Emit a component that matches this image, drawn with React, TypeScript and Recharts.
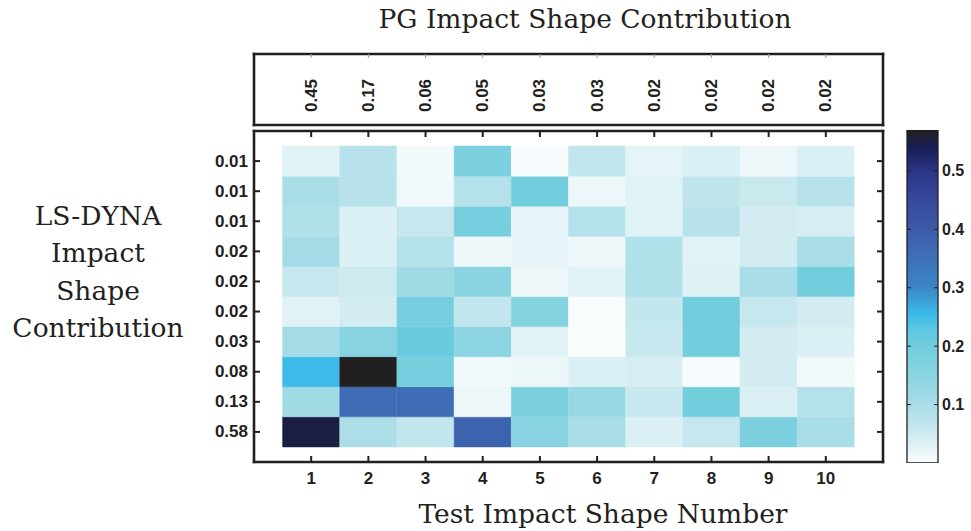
import React from 'react';
import { ComposedChart, BarChart, ScatterChart, Bar, Cell, Scatter, XAxis, YAxis } from 'recharts';

const INK = '#231f20';
const W = 971;
const H = 531;

// ---------------- data ----------------
const testShapes = [1, 2, 3, 4, 5, 6, 7, 8, 9, 10];
const pgContribution = ['0.45', '0.17', '0.06', '0.05', '0.03', '0.03', '0.02', '0.02', '0.02', '0.02'];
// rows listed top to bottom
const lsDynaContribution = ['0.01', '0.01', '0.01', '0.02', '0.02', '0.02', '0.03', '0.08', '0.13', '0.58'];

const row01 = [0.03, 0.08, 0.01, 0.18, 0.005, 0.065, 0.025, 0.035, 0.015, 0.035];
const row02 = [0.1, 0.08, 0.012, 0.085, 0.2, 0.015, 0.03, 0.07, 0.055, 0.08];
const row03 = [0.09, 0.035, 0.06, 0.19, 0.022, 0.085, 0.03, 0.08, 0.045, 0.04];
const row04 = [0.11, 0.035, 0.085, 0.015, 0.022, 0.015, 0.09, 0.028, 0.045, 0.1];
const row05 = [0.06, 0.05, 0.115, 0.15, 0.015, 0.028, 0.09, 0.032, 0.1, 0.2];
const row06 = [0.028, 0.045, 0.19, 0.065, 0.16, 0.002, 0.063, 0.2, 0.06, 0.045];
const row07 = [0.11, 0.155, 0.21, 0.145, 0.028, 0.002, 0.057, 0.2, 0.045, 0.035];
const row08 = [0.255, 0.57, 0.19, 0.01, 0.017, 0.035, 0.04, 0.005, 0.045, 0.012];
const row09 = [0.115, 0.36, 0.36, 0.015, 0.18, 0.13, 0.057, 0.2, 0.035, 0.085];
const row10 = [0.55, 0.095, 0.067, 0.38, 0.155, 0.1, 0.035, 0.06, 0.18, 0.1];
const heatRows = [row01, row02, row03, row04, row05, row06, row07, row08, row09, row10];

const colorbarTicks = [0.1, 0.2, 0.3, 0.4, 0.5];
const colorbarMax = 0.57;

const colormapValues = [0, 0.05, 0.1, 0.15, 0.2, 0.23, 0.255, 0.3, 0.35, 0.4, 0.45, 0.5, 0.54, 0.57];
const colormapColors = [
  '#fbfdfe', '#cdeaf0', '#a9dde7', '#8ad4e1', '#72cddd', '#5ac7e3', '#3cbbea',
  '#3b87c6', '#3e70b8', '#3d5ba8', '#37489b', '#2a3587', '#171d55', '#221f20',
];

// ---------------- helpers ----------------
function hexToRgb(h: string) {
  const n = parseInt(h.slice(1), 16);
  return [(n >> 16) & 255, (n >> 8) & 255, n & 255];
}
function colorFor(v: number) {
  if (v <= colormapValues[0]) return colormapColors[0];
  for (let i = 1; i < colormapValues.length; i++) {
    if (v <= colormapValues[i]) {
      const t = (v - colormapValues[i - 1]) / (colormapValues[i] - colormapValues[i - 1]);
      const a = hexToRgb(colormapColors[i - 1]);
      const b = hexToRgb(colormapColors[i]);
      const c = a.map((x, k) => Math.round(x + (b[k] - x) * t));
      return `rgb(${c[0]},${c[1]},${c[2]})`;
    }
  }
  return colormapColors[colormapColors.length - 1];
}

const stackKeys = heatRows.map((_, s) => `s${s}`); // s = 0 is the bottom row
const heatData = testShapes.map((shape) => {
  const d: any = { shape };
  stackKeys.forEach((k) => (d[k] = 1));
  return d;
});
const rowTicks = lsDynaContribution.map((_, i) => i + 0.5);
const anchorData = testShapes.map((x, i) => ({ x, y: rowTicks[i] }));
const pgData = testShapes.map((shape, i) => ({ shape, pos: 0.5, label: pgContribution[i] }));
const colorbarData = [{ name: 'scale', v: colorbarMax }];

// ---------------- styles ----------------
const axisLineStyle = { stroke: INK, strokeWidth: 2.6, strokeLinecap: 'square' as const };
const tickFont = {
  fontFamily: '"Liberation Sans", Arial, Helvetica, sans-serif',
  fontWeight: 700,
  fontSize: 17,
  fill: INK,
};
const cbFont = { ...tickFont, fontSize: 16 };
const serif = { fontFamily: '"DejaVu Serif", serif', fontSize: 26.5, fill: INK };

// ---------------- tick renderers ----------------
function LeftTick(props: any) {
  const { x, y, payload } = props;
  const s = Math.round(payload.value - 0.5);
  return (
    <g>
      <text x={x} y={y} textAnchor="end" dominantBaseline="central" {...tickFont}>
        {lsDynaContribution[lsDynaContribution.length - 1 - s]}
      </text>
      <line x1={x + 6} x2={x + 12} y1={y} y2={y} stroke={INK} strokeWidth={2} />
    </g>
  );
}
function RightTick(props: any) {
  const { x, y } = props;
  return <line x1={x} x2={x - 6} y1={y} y2={y} stroke={INK} strokeWidth={2} />;
}
function BottomTick(props: any) {
  const { x, y, payload } = props;
  return (
    <g>
      <text x={x} y={y} textAnchor="middle" dominantBaseline="central" {...tickFont}>
        {payload.value}
      </text>
      <line x1={x} x2={x} y1={y - 16} y2={y - 22} stroke={INK} strokeWidth={2} />
    </g>
  );
}
function TopTick(props: any) {
  const { x, y } = props;
  return <line x1={x} x2={x} y1={y} y2={y + 6} stroke={INK} strokeWidth={2} />;
}
function FaintTopTick(props: any) {
  const { x, y } = props;
  return <line x1={x} x2={x} y1={y} y2={y + 4} stroke="#9a9a9a" strokeWidth={1} />;
}
function ColorbarTick(props: any) {
  const { x, y, payload } = props;
  return (
    <g>
      <text x={x} y={y} textAnchor="start" dominantBaseline="central" {...cbFont}>
        {payload.value}
      </text>
      <line x1={x - 4} x2={x - 8} y1={y} y2={y} stroke={INK} strokeWidth={1} />
      <line x1={x - 35} x2={x - 31} y1={y} y2={y} stroke={INK} strokeWidth={1} />
    </g>
  );
}
function PgLabel(props: any) {
  const { cx, cy, payload } = props;
  return (
    <text
      transform={`translate(${cx},${cy + 6}) rotate(-90)`}
      textAnchor="middle"
      dominantBaseline="central"
      {...tickFont}
    >
      {payload.label}
    </text>
  );
}
const Empty = () => <g />;

const layer: React.CSSProperties = { position: 'absolute', left: 0, top: 0 };

export default function App() {
  return (
    <div style={{ position: 'absolute', left: 0, top: 0, width: W, height: H, background: '#fff' }}>
      {/* main heatmap */}
      <div style={layer}>
        <ComposedChart
          width={W}
          height={H}
          data={heatData}
          margin={{ top: 121, bottom: 39, left: 194, right: 78 }}
          barCategoryGap={0}
          barGap={0}
        >
          <XAxis
            xAxisId="bottom"
            dataKey="shape"
            type="category"
            orientation="bottom"
            height={30}
            padding={{ left: 28.6, right: 28.6 }}
            axisLine={axisLineStyle}
            tickLine={false}
            tickSize={0}
            tickMargin={16}
            interval={0}
            tick={<BottomTick />}
          />
          <XAxis
            xAxisId="top"
            dataKey="x"
            type="number"
            orientation="top"
            domain={[0, 11]}
            ticks={testShapes}
            allowDataOverflow
            height={10}
            axisLine={axisLineStyle}
            tickLine={false}
            tickSize={0}
            tickMargin={0}
            interval={0}
            tick={<TopTick />}
          />
          <YAxis
            yAxisId="left"
            type="number"
            orientation="left"
            domain={[-0.5, 10.5]}
            ticks={rowTicks}
            allowDataOverflow
            width={60}
            axisLine={axisLineStyle}
            tickLine={false}
            tickSize={0}
            tickMargin={6}
            interval={0}
            tick={<LeftTick />}
          />
          <YAxis
            yAxisId="right"
            dataKey="y"
            type="number"
            orientation="right"
            domain={[-0.5, 10.5]}
            ticks={rowTicks}
            allowDataOverflow
            width={10}
            axisLine={axisLineStyle}
            tickLine={false}
            tickSize={0}
            tickMargin={0}
            interval={0}
            tick={<RightTick />}
          />
          {stackKeys.map((k, s) => {
            const row = heatRows[heatRows.length - 1 - s];
            return (
              <Bar key={k} dataKey={k} stackId="heat" xAxisId="bottom" yAxisId="left" isAnimationActive={false}>
                {row.map((v, c) => (
                  <Cell key={c} fill={colorFor(v)} stroke={colorFor(v)} strokeWidth={0.5} />
                ))}
              </Bar>
            );
          })}
          <Scatter xAxisId="top" yAxisId="right" data={anchorData} shape={Empty} isAnimationActive={false} />
        </ComposedChart>
      </div>

      {/* colorbar */}
      <div style={layer}>
        <BarChart
          width={W}
          height={H}
          data={colorbarData}
          margin={{ top: 130, bottom: 68, left: 907, right: 3 }}
          barCategoryGap={0}
        >
          <defs>
            <linearGradient id="cmap" x1="0" y1="1" x2="0" y2="0">
              {colormapValues.map((v, i) => (
                <stop key={i} offset={v / colorbarMax} stopColor={colormapColors[i]} />
              ))}
            </linearGradient>
          </defs>
          <XAxis dataKey="name" hide />
          <YAxis
            orientation="right"
            width={30}
            domain={[0, colorbarMax]}
            ticks={colorbarTicks}
            allowDataOverflow
            axisLine={false}
            tickLine={false}
            tickSize={0}
            tickMargin={4}
            interval={0}
            tick={<ColorbarTick />}
          />
          <Bar dataKey="v" fill="url(#cmap)" stroke={INK} strokeWidth={1.3} isAnimationActive={false} />
        </BarChart>
      </div>

      {/* PG contribution strip */}
      <div style={layer}>
        <ScatterChart width={W} height={140} margin={{ top: 44, bottom: 10, left: 250, right: 84 }}>
          <XAxis
            xAxisId="b"
            dataKey="shape"
            type="number"
            orientation="bottom"
            domain={[0, 11]}
            allowDataOverflow
            height={5}
            tick={false}
            tickLine={false}
            axisLine={axisLineStyle}
          />
          <XAxis
            xAxisId="t"
            dataKey="shape"
            type="number"
            orientation="top"
            domain={[0, 11]}
            ticks={testShapes}
            allowDataOverflow
            height={10}
            tickLine={false}
            tickSize={0}
            tickMargin={0}
            interval={0}
            tick={<FaintTopTick />}
            axisLine={axisLineStyle}
          />
          <YAxis
            yAxisId="l"
            dataKey="pos"
            type="number"
            domain={[0, 1]}
            allowDataOverflow
            width={4}
            tick={false}
            tickLine={false}
            axisLine={axisLineStyle}
          />
          <YAxis
            yAxisId="r"
            dataKey="pos"
            type="number"
            orientation="right"
            domain={[0, 1]}
            allowDataOverflow
            width={4}
            tick={false}
            tickLine={false}
            axisLine={axisLineStyle}
          />
          <Scatter xAxisId="b" yAxisId="l" data={pgData} shape={PgLabel} isAnimationActive={false} />
          <Scatter xAxisId="t" yAxisId="r" data={pgData} shape={Empty} isAnimationActive={false} />
        </ScatterChart>
      </div>

      {/* titles */}
      <svg width={W} height={H} style={{ ...layer, pointerEvents: 'none' }}>
        <text x={585} y={28} textAnchor="middle" {...serif}>
          PG Impact Shape Contribution
        </text>
        <text x={603} y={523} textAnchor="middle" {...serif}>
          Test Impact Shape Number
        </text>
        <text textAnchor="middle" {...serif}>
          <tspan x={98} y={225}>LS-DYNA</tspan>
          <tspan x={98} y={262}>Impact</tspan>
          <tspan x={98} y={300}>Shape</tspan>
          <tspan x={98} y={337}>Contribution</tspan>
        </text>
      </svg>
    </div>
  );
}
